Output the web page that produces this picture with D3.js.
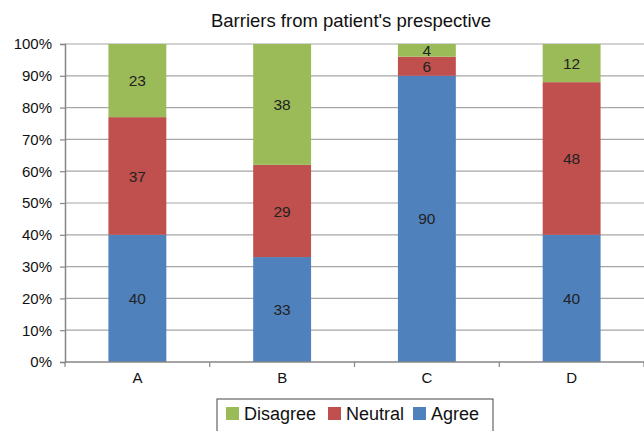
<!DOCTYPE html>
<html lang="en">
<head>
<meta charset="utf-8">
<title>Barriers from patient's prespective</title>
<script src="https://cdnjs.cloudflare.com/ajax/libs/d3/7.8.5/d3.min.js"></script>
<style>
  body { margin: 0; background: #fff; }
  svg { font-family: "Liberation Sans", Arial, Helvetica, sans-serif; }
</style>
</head>
<body>
<div id="plot"></div>
<script>
// data
var categories = ["A", "B", "C", "D"];
var agree    = [40, 33, 90, 40];
var neutral  = [37, 29, 6, 48];
var disagree = [23, 38, 4, 12];
var yTicks = [0, 10, 20, 30, 40, 50, 60, 70, 80, 90, 100];

var width = 644, height = 431;
var pLeft = 65, pRight = 644, pTop = 44, pBottom = 362;

var rows = categories.map(function(c, i) {
  return { cat: c, Agree: agree[i], Neutral: neutral[i], Disagree: disagree[i] };
});
var keys = ["Agree", "Neutral", "Disagree"];
var colors = { Agree: "#4f81bd", Neutral: "#c0504d", Disagree: "#9bbb59" };

var svg = d3.select("#plot").append("svg")
  .attr("width", width).attr("height", height);

var x = d3.scaleBand().domain(categories).range([pLeft, pRight]).paddingInner(0).paddingOuter(0);
var y = d3.scaleLinear().domain([0, 100]).range([pBottom, pTop]);

// title
svg.append("text")
  .attr("x", 351).attr("y", 27)
  .attr("text-anchor", "middle")
  .attr("font-size", 18.5).attr("fill", "#111")
  .text("Barriers from patient's prespective");

// gridlines
svg.append("g").selectAll("line").data(yTicks.slice(1)).enter().append("line")
  .attr("x1", pLeft).attr("x2", pRight)
  .attr("y1", function(d) { return y(d); }).attr("y2", function(d) { return y(d); })
  .attr("stroke", "#a6a6a6").attr("stroke-width", 1.2);

// stacked bars
var stack = d3.stack().keys(keys)(rows);
var bw = x.bandwidth() * 0.4;
var layers = svg.append("g").selectAll("g").data(stack).enter().append("g")
  .attr("fill", function(d) { return colors[d.key]; });

layers.selectAll("rect").data(function(d) { return d; }).enter().append("rect")
  .attr("x", function(d) { return x(d.data.cat) + (x.bandwidth() - bw) / 2; })
  .attr("width", bw)
  .attr("y", function(d) { return y(d[1]); })
  .attr("height", function(d) { return y(d[0]) - y(d[1]); });

layers.selectAll("text").data(function(d) { return d.map(function(p) { return { p: p, key: d.key }; }); })
  .enter().append("text")
  .attr("x", function(d) { return x(d.p.data.cat) + x.bandwidth() / 2; })
  .attr("y", function(d) { return (y(d.p[0]) + y(d.p[1])) / 2; })
  .attr("dy", "0.36em")
  .attr("text-anchor", "middle")
  .attr("font-size", 15.5).attr("fill", "#222")
  .text(function(d) { return d.p.data[d.key]; });

// y axis
var yAxis = d3.axisLeft(y).tickValues(yTicks)
  .tickFormat(function(d) { return d + "%"; })
  .tickSize(5).tickPadding(8);
var gy = svg.append("g").attr("transform", "translate(" + pLeft + ",0)").call(yAxis);
gy.select(".domain").attr("stroke", "#868686").attr("stroke-width", 1.5);
gy.selectAll(".tick line").attr("stroke", "#868686").attr("stroke-width", 1.2);
gy.selectAll("text").attr("font-size", 15).attr("fill", "#111").attr("font-family", "Liberation Sans, Arial, sans-serif");

// x axis
var xAxis = d3.axisBottom(x).tickSize(0).tickPadding(10);
var gx = svg.append("g").attr("transform", "translate(0," + pBottom + ")").call(xAxis);
gx.select(".domain").remove();
gx.selectAll("text").attr("font-size", 15).attr("fill", "#111").attr("font-family", "Liberation Sans, Arial, sans-serif");
svg.append("line").attr("x1", pLeft).attr("x2", pRight).attr("y1", pBottom).attr("y2", pBottom)
  .attr("stroke", "#868686").attr("stroke-width", 1.5);
svg.append("g").selectAll("line").data(categories.concat(["end"])).enter().append("line")
  .attr("x1", function(d, i) { return pLeft + i * x.bandwidth(); })
  .attr("x2", function(d, i) { return pLeft + i * x.bandwidth(); })
  .attr("y1", pBottom).attr("y2", pBottom + 5)
  .attr("stroke", "#868686").attr("stroke-width", 1.2);

// legend
var legendKeys = ["Disagree", "Neutral", "Agree"];
var lg = svg.append("g").attr("transform", "translate(217,399)");
lg.append("rect").attr("x", 0).attr("y", 0).attr("width", 276).attr("height", 40)
  .attr("fill", "#fff").attr("stroke", "#444").attr("stroke-width", 1);
var lx = [9, 111, 196];
var items = lg.selectAll("g.item").data(legendKeys).enter().append("g")
  .attr("transform", function(d, i) { return "translate(" + lx[i] + ",0)"; });
items.append("rect").attr("x", 0).attr("y", 8).attr("width", 13).attr("height", 13)
  .attr("fill", function(d) { return colors[d]; });
items.append("text").attr("x", 18).attr("y", 21)
  .attr("font-size", 18).attr("fill", "#111")
  .text(function(d) { return d; });
</script>
</body>
</html>
